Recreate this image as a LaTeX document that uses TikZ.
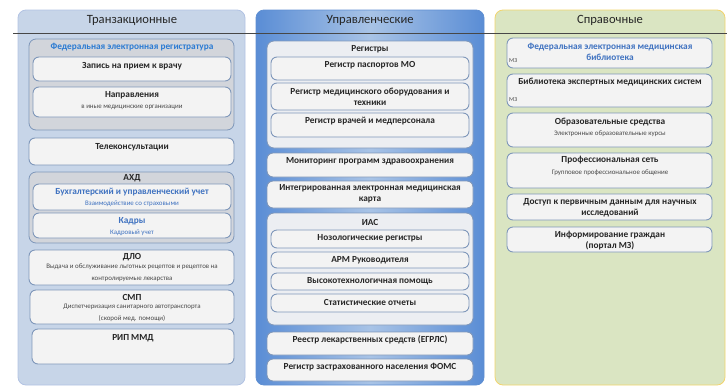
\documentclass[tikz,border=0pt]{standalone}
\usepackage{fontspec}
\setmainfont{Carlito}

\definecolor{colonefill}{HTML}{C7D5E8}
\definecolor{colonedraw}{HTML}{B2C3E3}
\definecolor{coltwoedge}{HTML}{5A8DD5}
\definecolor{coltwomid}{HTML}{A8C3E6}
\definecolor{coltwodraw}{HTML}{5F8FD2}
\definecolor{colthreefill}{HTML}{DAE5C2}
\definecolor{colthreedraw}{HTML}{F2D46C}
\definecolor{grpgray}{HTML}{D2D5DB}
\definecolor{grpwhite}{HTML}{ECEEF2}
\definecolor{boxline}{HTML}{7F97BA}
\definecolor{boxfill}{HTML}{F3F3F3}
\definecolor{textdark}{HTML}{262626}
\definecolor{textgray}{HTML}{474747}
\definecolor{textblue}{HTML}{3F72C0}
\definecolor{textbright}{HTML}{2B7BD3}

\begin{document}
\begin{tikzpicture}[
    x=1pt, y=-1pt,
    colbox/.style={rounded corners=8pt, line width=0.8pt},
    grp/.style={draw=boxline, rounded corners=7pt, line width=0.8pt},
    item/.style={draw=boxline, fill=boxfill, rounded corners=6pt, line width=0.9pt},
    coltitle/.style={font=\fontsize{12.6}{14}\selectfont, text=textdark, inner sep=0pt},
    boxtext/.style={font=\fontsize{9.3}{11}\selectfont\bfseries, text=textdark,
        align=center, inner sep=0pt},
    bluetext/.style={boxtext, text=textblue},
    subtext/.style={font=\fontsize{6.9}{12}\selectfont, text=textgray,
        align=center, inner sep=0pt},
    mz/.style={font=\fontsize{6}{7}\selectfont, text=textgray, anchor=west, inner sep=0pt}
]

    \useasboundingbox (0,0) rectangle (727,386);

    % columns
    \draw[colbox, draw=colonedraw, fill=colonefill] (18,10) rectangle (245,385);
    \shade[colbox, left color=coltwoedge, right color=coltwoedge,
        middle color=coltwomid] (256,10) rectangle (484,385);
    \draw[colbox, draw=coltwodraw] (256,10) rectangle (484,385);
    \draw[colbox, draw=colthreedraw, fill=colthreefill] (495,10) rectangle (725,385);

    \draw[line width=0.8pt, textgray] (13,33) -- (727,33);

    \node[coltitle] (t1) at (132,20) {Транзакционные};
    \node[coltitle] (t2) at (370,20) {Управленческие};
    \node[coltitle] (t3) at (610,20) {Справочные};

    % Транзакционные
    \draw[grp, fill=grpgray] (29,39) rectangle (234,130);
    \node[boxtext, text=textbright] (fer) at (132,47) {Федеральная электронная регистратура};
    \draw[item] (33,57) rectangle (231,81);
    \node[boxtext] (zapis) at (132,66) {Запись на прием к врачу};
    \draw[item] (33,87) rectangle (231,117);
    \node[boxtext] (napr) at (132,95) {Направления};
    \node[subtext] (naprsub) at (132,107) {в иные медицинские организации};

    \draw[item] (29,138) rectangle (234,165);
    \node[boxtext] (tele) at (132,147) {Телеконсультации};

    \draw[grp, fill=grpgray] (29,172) rectangle (234,243);
    \node[boxtext] (ahd) at (132,178) {АХД};
    \draw[item] (33,184) rectangle (231,210);
    \node[bluetext] (buh) at (132,192) {Бухгалтерский и управленческий учет};
    \node[subtext, text=textblue] (buhsub) at (132,204) {Взаимодействие со страховыми};
    \draw[item] (33,213) rectangle (231,238);
    \node[bluetext] (kadry) at (132,221) {Кадры};
    \node[subtext, text=textblue] (kadrysub) at (132,233) {Кадровый учет};

    \draw[item] (29,250) rectangle (234,285);
    \node[boxtext] (dlo) at (132,257) {ДЛО};
    \node[subtext] (dlosub) at (132,273) {Выдача и обслуживание льготных рецептов и рецептов на\\контролируемые лекарства};

    \draw[item] (30,290) rectangle (234,324);
    \node[boxtext] (smp) at (132,297) {СМП};
    \node[subtext] (smpsub) at (132,313) {Диспетчеризация санитарного автотранспорта\\(скорой мед. помощи)};

    \draw[item] (32,329) rectangle (234,364);
    \node[boxtext] (rip) at (133,338) {РИП ММД};

    % Управленческие
    \draw[grp, fill=grpwhite] (267,41) rectangle (473,148);
    \node[boxtext] (reg) at (370,49) {Регистры};
    \draw[item] (271,57) rectangle (469,80);
    \node[boxtext] (pasp) at (370,65) {Регистр паспортов МО};
    \draw[item] (271,83) rectangle (469,110);
    \node[boxtext] (oborud) at (370,96.5) {Регистр медицинского оборудования и\\техники};
    \draw[item] (271,113) rectangle (469,137);
    \node[boxtext] (vrach) at (370,121) {Регистр врачей и медперсонала};

    \draw[item] (267,153) rectangle (473,177);
    \node[boxtext] (monitor) at (370,161) {Мониторинг программ здравоохранения};
    \draw[item] (267,181) rectangle (473,208);
    \node[boxtext] (iemk) at (370,194) {Интегрированная электронная медицинская\\карта};

    \draw[grp, fill=grpwhite] (267,213) rectangle (473,325);
    \node[boxtext] (ias) at (370,222) {ИАС};
    \draw[item] (271,230) rectangle (469,248);
    \node[boxtext] (nozo) at (370,238) {Нозологические регистры};
    \draw[item] (271,252) rectangle (469,268);
    \node[boxtext] (arm) at (370,260) {АРМ Руководителя};
    \draw[item] (271,273) rectangle (469,290);
    \node[boxtext] (vmp) at (370,281) {Высокотехнологичная помощь};
    \draw[item] (271,294) rectangle (469,312);
    \node[boxtext] (stat) at (370,302) {Статистические отчеты};

    \draw[item] (267,332) rectangle (473,355);
    \node[boxtext] (egrls) at (370,340) {Реестр лекарственных средств (ЕГРЛС)};
    \draw[item] (267,359) rectangle (473,381);
    \node[boxtext] (foms) at (370,367) {Регистр застрахованного населения ФОМС};

    % Справочные
    \draw[item] (507,38) rectangle (712,68);
    \node[bluetext] (feml) at (610,51.5) {Федеральная электронная медицинская\\библиотека};
    \node[mz] (fememz) at (509,61) {МЗ};
    \draw[item] (507,74) rectangle (712,107);
    \node[boxtext] (bems) at (610,82) {Библиотека экспертных медицинских систем};
    \node[mz] (bemsmz) at (509,100) {МЗ};
    \draw[item] (507,113) rectangle (712,147);
    \node[boxtext] (obraz) at (610,122) {Образовательные средства};
    \node[subtext] (obrazsub) at (610,134) {Электронные образовательные курсы};
    \draw[item] (507,153) rectangle (712,188);
    \node[boxtext] (prof) at (610,160) {Профессиональная сеть};
    \node[subtext] (profsub) at (610,172.5) {Групповое профессиональное общение};
    \draw[item] (507,194) rectangle (712,220);
    \node[boxtext] (dostup) at (610,207.5) {Доступ к первичным данным для научных\\исследований};
    \draw[item] (507,227) rectangle (712,252);
    \node[boxtext] (inform) at (610,241) {Информирование граждан\\(портал МЗ)};

\end{tikzpicture}
\end{document}
